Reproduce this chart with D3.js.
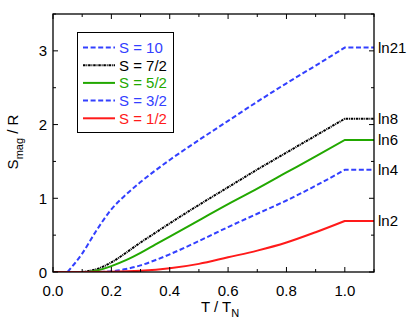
<!DOCTYPE html>
<html>
<head>
<meta charset="utf-8">
<script src="https://cdn.jsdelivr.net/npm/d3@7"></script>
<style>
html,body{margin:0;padding:0;background:#fff;}
svg{display:block;font-family:"Liberation Sans",Arial,sans-serif;}
</style>
</head>
<body>
<svg id="chart" width="415" height="336"></svg>
<script>
// ---- data ----
const tS10  = [0.05,0.10,0.15,0.20,0.25,0.30,0.40,0.50,0.60,0.70,0.80,0.90,1.00,1.10];
const vS10  = [0.00,0.25,0.57,0.85,1.05,1.22,1.52,1.79,2.05,2.31,2.56,2.80,3.045,3.045];
const tS72  = [0.10,0.15,0.20,0.25,0.30,0.35,0.40,0.50,0.60,0.70,0.80,0.90,1.00,1.10];
const vS72  = [0.00,0.04,0.13,0.26,0.40,0.53,0.66,0.91,1.15,1.39,1.62,1.85,2.079,2.079];
const tS52  = [0.12,0.15,0.20,0.25,0.30,0.35,0.40,0.50,0.60,0.70,0.80,0.90,1.00,1.10];
const vS52  = [0.00,0.02,0.08,0.16,0.26,0.37,0.48,0.70,0.92,1.13,1.35,1.57,1.792,1.792];
const tS32  = [0.16,0.20,0.25,0.30,0.35,0.40,0.50,0.60,0.70,0.80,0.90,1.00,1.10];
const vS32  = [0.00,0.01,0.04,0.09,0.16,0.24,0.42,0.61,0.79,0.97,1.17,1.386,1.386];
const tS12  = [0.00,0.10,0.20,0.30,0.40,0.50,0.60,0.70,0.80,0.90,1.00,1.10];
const vS12  = [0.00,0.00,0.003,0.016,0.05,0.11,0.20,0.29,0.40,0.54,0.693,0.693];

const seriesNames  = ["S = 10","S = 7/2","S = 5/2","S = 3/2","S = 1/2"];
const endLabels    = ["ln21","ln8","ln6","ln4","ln2"];
const xTicks = [0,0.2,0.4,0.6,0.8,1.0];
const yTicks = [0,1,2,3];

// ---- layout / style ----
const colors = ["#3340ff","#000000","#22a800","#3340ff","#ff1a1a"];
const dashes = ["5,2.6","2.5,0.8,1,0.8",null,"5,2.6",null];
const series = [
  {t:tS10,v:vS10},{t:tS72,v:vS72},{t:tS52,v:vS52},{t:tS32,v:vS32},{t:tS12,v:vS12}
];

const svg = d3.select("#chart");
const L=53, R=374, T=14, B=272;
const x = d3.scaleLinear().domain([0,1.1]).range([L,R]);
const y = d3.scaleLinear().domain([0,3.5]).range([B,T]);

const font = 15;

svg.append("clipPath").attr("id","clip").append("rect")
  .attr("x",L).attr("y",T).attr("width",R-L).attr("height",B-T);
const curve = d3.line().x(d=>x(d[0])).y(d=>y(d[1])).curve(d3.curveMonotoneX);
series.forEach((s,i)=>{
  const pts = s.t.map((t,j)=>[t,s.v[j]]);
  const rising = pts.filter(p=>p[0]<=1.0);
  const flat = pts.filter(p=>p[0]>=1.0);
  const d = curve(rising) + "L" + flat.slice(1).map(p=>x(p[0])+","+y(p[1])).join("L");
  svg.append("path").attr("d",d)
    .attr("fill","none").attr("stroke",colors[i]).attr("stroke-width",2)
    .attr("stroke-dasharray",dashes[i]).attr("clip-path","url(#clip)");
});

// axes with inward ticks
const minorX = d3.range(0,1.101,0.1);
const minorY = d3.range(0,3.501,0.5);
const gAx = svg.append("g");
function isMajor(v,step){return Math.abs(v/step - Math.round(v/step))<1e-6;}
minorX.forEach(v=>{
  const len = isMajor(v,0.2)?5:3;
  gAx.append("line").attr("x1",x(v)).attr("x2",x(v)).attr("y1",B).attr("y2",B-len).attr("stroke","#000");
  gAx.append("line").attr("x1",x(v)).attr("x2",x(v)).attr("y1",T).attr("y2",T+len).attr("stroke","#000");
});
minorY.forEach(v=>{
  const len = isMajor(v,1)?5:3;
  gAx.append("line").attr("x1",L).attr("x2",L+len).attr("y1",y(v)).attr("y2",y(v)).attr("stroke","#000");
  gAx.append("line").attr("x1",R).attr("x2",R-len).attr("y1",y(v)).attr("y2",y(v)).attr("stroke","#000");
});
gAx.append("rect").attr("x",L).attr("y",T).attr("width",R-L).attr("height",B-T)
  .attr("fill","none").attr("stroke","#000").attr("stroke-width",1.3);

// tick labels
const fmt = d3.format(".1f");
xTicks.forEach(v=>{
  svg.append("text").attr("x",x(v)).attr("y",B+24).attr("text-anchor","middle")
    .attr("font-size",font).text(fmt(v));
});
yTicks.forEach(v=>{
  svg.append("text").attr("x",L-6).attr("y",y(v)+5.5).attr("text-anchor","end")
    .attr("font-size",font).text(v);
});

// axis titles
const xt = svg.append("text").attr("x",220).attr("y",312).attr("text-anchor","middle").attr("font-size",font);
xt.append("tspan").text("T / T");
xt.append("tspan").attr("font-size",11).attr("dy",5).text("N");

const yt = svg.append("text").attr("transform","translate(18,142) rotate(-90)")
  .attr("text-anchor","middle").attr("font-size",font);
yt.append("tspan").text("S");
yt.append("tspan").attr("font-size",11).attr("dy",5).text("mag");
yt.append("tspan").attr("dy",-5).text(" / R");

// end labels
series.forEach((s,i)=>{
  svg.append("text").attr("x",R+4).attr("y",y(s.v[s.v.length-1])+5.5)
    .attr("font-size",font).text(endLabels[i]);
});

// legend
const lg = svg.append("g");
lg.append("rect").attr("x",77.5).attr("y",32.5).attr("width",96).attr("height",100)
  .attr("fill","#fff").attr("stroke","#000").attr("stroke-width",1);
seriesNames.forEach((n,i)=>{
  const yy = 47.5 + i*17.7;
  lg.append("line").attr("x1",83).attr("x2",115).attr("y1",yy).attr("y2",yy)
    .attr("stroke",colors[i]).attr("stroke-width",2).attr("stroke-dasharray",dashes[i]);
  lg.append("text").attr("x",119).attr("y",yy+5.5).attr("font-size",font)
    .attr("fill",colors[i]).text(n);
});
</script>
</body>
</html>
